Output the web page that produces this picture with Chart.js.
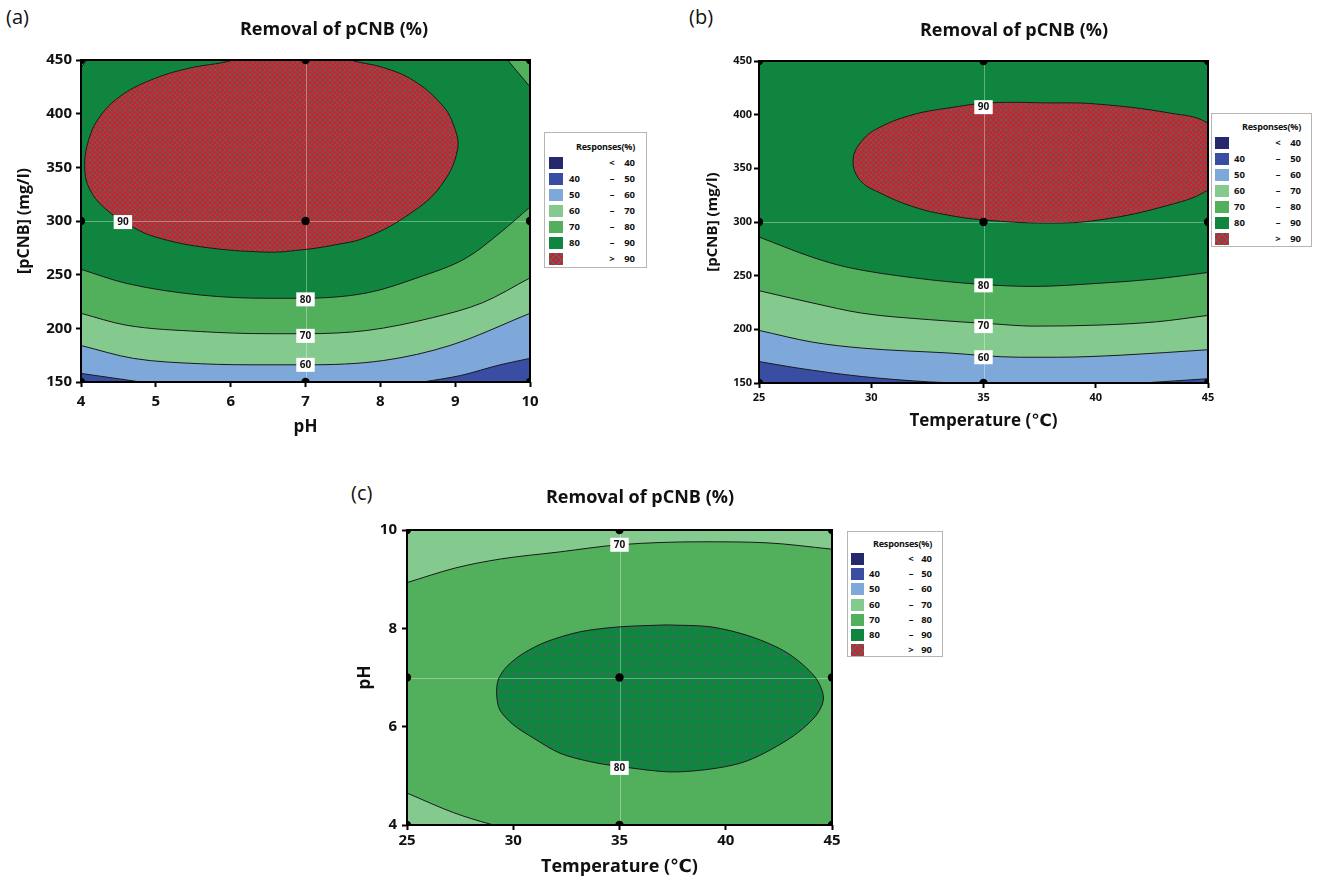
<!DOCTYPE html>
<html><head><meta charset="utf-8">
<script src="https://cdn.jsdelivr.net/npm/chart.js@4.4.1/dist/chart.umd.min.js"></script>
<style>
html,body{margin:0;padding:0;background:#fff;overflow:hidden;width:1317px;height:880px;}
body{position:relative;font-family:'Open Sans','DejaVu Sans',sans-serif;color:#111;}
canvas{position:absolute;}
.pl{position:absolute;font-size:20px;line-height:24px;color:#111;}
.lg{position:absolute;border:1.5px solid #b5b5b5;background:#fff;box-sizing:border-box;font-weight:700;}
.lg div,.lg span{position:absolute;white-space:nowrap;}
</style></head><body>
<div class="pl" style="left:6px;top:5px">(a)</div>
<div class="pl" style="left:689px;top:5px">(b)</div>
<div class="pl" style="left:351px;top:481px">(c)</div>
<canvas id="ca" width="668" height="440" style="left:0;top:0"></canvas>
<canvas id="cb" width="636" height="433" style="left:696px;top:0"></canvas>
<canvas id="cc" width="580" height="410" style="left:350px;top:470px"></canvas>
<div id="lga" class="lg"></div>
<div id="lgb" class="lg"></div>
<div id="lgc" class="lg"></div>
<script>
// ---------- tick values ----------
const phTicks = [4, 5, 6, 7, 8, 9, 10];
const pcnbTicks = [150, 200, 250, 300, 350, 400, 450];
const tempTicks = [25, 30, 35, 40, 45];
const phTicksC = [4, 6, 8, 10];

// ---------- legend ----------
const legendLo = ['', '40', '50', '60', '70', '80', ''];
const legendOp = ['<', '–', '–', '–', '–', '–', '>'];
const legendHi = ['40', '50', '60', '70', '80', '90', '90'];

// ---------- panel (a): pH vs [pCNB] ----------
const aDesignX = [4, 4, 4, 7, 7, 7, 10, 10, 10];
const aDesignY = [150, 300, 450, 150, 300, 450, 150, 300, 450];
const aC90 = [[6.8,470],[6.03,450],[5.42,442],[4.92,431],[4.52,416],[4.25,397],[4.1,375],[4.05,350],[4.12,329],[4.35,310],[4.7,294],[5.0,285],[5.6,276],[6.48,271],[6.93,273],[7.33,277],[7.82,285],[8.4,307],[8.8,332],[9.03,366],[8.97,391],[8.8,410],[8.44,431],[8.04,443],[7.6,450],[6.8,470]];
const aC80 = [[4,255],[4.6,242],[5.6,231],[6.5,228],[6.93,228],[7.82,233],[8.49,247],[9.16,266],[9.6,289],[10,313]];
const aC70 = [[4,214],[4.6,203],[5.6,197],[6.5,195],[7,195],[7.82,198],[8.7,210],[9.37,224],[10,247]];
const aC60 = [[4,184],[4.7,172],[5.6,167],[6.5,166],[7,166],[8.04,170],[8.93,184],[10,214]];
const aC50L = [[4,158],[4.4,154],[4.8,150]];
const aC50R = [[8.57,150],[9.07,156],[9.6,166],[10,172]];
const aC80TR = [[9.7,450],[10,425]];
const aC80TL = [[4,443],[4.08,450]];
const aLabelText = ['90', '80', '70', '60'];
const aLabelX = [4.56, 7, 7, 7];
const aLabelY = [299, 227, 193, 166];
const aCross = [7, 300];

// ---------- panel (b): Temperature vs [pCNB] ----------
const bDesignX = [25, 25, 25, 35, 35, 35, 45, 45, 45];
const bDesignY = [150, 300, 450, 150, 300, 450, 150, 300, 450];
const bC90 = [[46.5,360],[45,392],[43.3,401.5],[40.0,410],[37.8,411],[35.3,411],[33.37,406],[31.86,400],[30.4,388.5],[29.6,376],[29.19,358],[29.5,339],[30.4,327],[31.9,314],[33.4,306.5],[35.0,302],[37.8,299],[40.2,302],[43.3,316],[45,330],[46.5,360]];
const bC80 = [[25,286],[27.4,267],[28.9,258],[31.9,248],[34.8,242],[37.2,240],[40.2,243],[42.7,247],[45,253]];
const bC70 = [[25,236],[27.4,224.5],[29.6,215],[32.6,209],[35.5,205],[37.2,203],[40.2,204],[42.7,207],[45,213]];
const bC60 = [[25,199],[27.4,188],[29.6,182.5],[33.4,178],[36.6,174],[38.3,174],[41.2,176],[45,181]];
const bC50L = [[25,170],[26.7,164],[29.6,156],[32.6,151],[33.8,150]];
const bC50R = [[42.1,150],[45,154]];
const bLabelText = ['90', '80', '70', '60'];
const bLabelX = [35, 35, 35, 35];
const bLabelY = [407, 241, 203, 174];
const bCross = [35, 300];

// ---------- panel (c): Temperature vs pH ----------
const cDesignX = [25, 25, 25, 35, 35, 35, 45, 45, 45];
const cDesignY = [4, 7, 10, 4, 7, 10, 4, 7, 10];
const cC80 = [[37.2,8.07],[39.3,8.03],[41.2,7.83],[42.9,7.5],[44.2,7.01],[44.6,6.58],[44.2,6.2],[42.9,5.73],[40.7,5.26],[37.7,5.08],[35.0,5.19],[33.6,5.29],[32.2,5.46],[30.94,5.77],[30.0,6.04],[29.37,6.34],[29.22,6.65],[29.29,6.95],[29.69,7.22],[30.47,7.49],[31.58,7.73],[33.15,7.93],[35.0,8.03],[37.2,8.07]];
const cC70Top = [[25,8.93],[27.3,9.23],[29.4,9.41],[32.1,9.55],[35,9.70],[38.9,9.76],[41.9,9.74],[45,9.61]];
const cC70Bot = [[25,4.65],[27.2,4.25],[28.9,4.02],[29.1,4.0]];
const cLabelText = ['70', '80'];
const cLabelX = [35, 35];
const cLabelY = [9.70, 5.16];
const cCross = [35, 7];

// ---------- styles ----------
const FONT = "'Open Sans','DejaVu Sans',sans-serif";
const COL = {lt40:'#26286e', b40:'#394ea3', b50:'#7ea8da', b60:'#84c98e', b70:'#52b05c', b80:'#108540', red:'#c9222b'};

function hatchPattern() {
  const t = document.createElement('canvas'); t.width = 5; t.height = 5;
  const g = t.getContext('2d');
  g.fillStyle = COL.red; g.fillRect(0, 0, 5, 5);
  g.fillStyle = '#6b5d5d';
  for (let i = 0; i < 5; i++) { g.fillRect(i, i, 1, 1); g.fillRect(4 - i, i, 1, 1); }
  return g.createPattern(t, 'repeat');
}
function dotPattern() {
  const t = document.createElement('canvas'); t.width = 8; t.height = 9;
  const g = t.getContext('2d');
  g.fillStyle = COL.b80; g.fillRect(0, 0, 8, 9);
  g.fillStyle = '#6e5274'; g.fillRect(3, 4, 2, 2);
  return g.createPattern(t, 'repeat');
}
const toXY = arr => arr.map(p => ({x: p[0], y: p[1]}));

function axis(o) {
  return {
    type: 'linear', min: o.min, max: o.max,
    afterBuildTicks: s => { s.ticks = o.ticks.map(v => ({value: v})); },
    afterFit: s => { if (o.isX) s.height = o.fit; else s.width = o.fit; },
    grid: {drawOnChartArea: false, drawTicks: true, tickLength: 5, tickColor: '#000', tickWidth: 2, color: '#000'},
    border: {display: false},
    ticks: {font: {family: FONT, size: o.tickSize, weight: 'bold'}, color: '#111', padding: o.tickPad, autoSkip: false, maxRotation: 0, minRotation: 0},
    title: {display: true, text: o.title, color: '#111', font: {family: FONT, size: o.titleSize, weight: 'bold'},
            padding: o.isX ? {top: 0, bottom: o.titlePad} : {top: o.titlePad, bottom: 0}}
  };
}

function makeChart(id, o) {
  const ds = [{
    data: o.designX.map((x, i) => ({x: x, y: o.designY[i]})),
    showLine: false, pointRadius: 4.2, pointHoverRadius: 4.2,
    backgroundColor: '#000', borderColor: '#000', borderWidth: 0, fill: false
  }];
  for (const L of o.layers) {
    ds.push({
      data: toXY(L.pts), showLine: true, pointRadius: 0, pointHoverRadius: 0,
      borderColor: '#1a1a1a', borderWidth: 1, fill: L.fill, backgroundColor: L.color,
      tension: L.fill === 'shape' ? (L.tension || 0.4) : 0,
      cubicInterpolationMode: L.fill === 'shape' ? 'default' : 'monotone'
    });
  }
  const deco = {
    id: 'deco' + id,
    beforeDraw(chart) {
      const a = chart.chartArea, c = chart.ctx;
      c.save(); c.fillStyle = o.bg; c.fillRect(a.left, a.top, a.right - a.left, a.bottom - a.top); c.restore();
    },
    beforeDatasetsDraw(chart) {
      const a = chart.chartArea, c = chart.ctx;
      const px = chart.scales.x.getPixelForValue(o.cross[0]);
      const py = chart.scales.y.getPixelForValue(o.cross[1]);
      c.save(); c.strokeStyle = 'rgba(255,255,255,0.35)'; c.lineWidth = 1;
      c.beginPath(); c.moveTo(Math.round(px) + 0.5, a.top); c.lineTo(Math.round(px) + 0.5, a.bottom);
      c.moveTo(a.left, Math.round(py) + 0.5); c.lineTo(a.right, Math.round(py) + 0.5); c.stroke(); c.restore();
    },
    afterDatasetsDraw(chart) {
      const c = chart.ctx;
      c.save();
      c.font = 'bold 10px ' + FONT; c.textAlign = 'center'; c.textBaseline = 'middle';
      o.labelText.forEach((t, i) => {
        const px = chart.scales.x.getPixelForValue(o.labelX[i]);
        const py = chart.scales.y.getPixelForValue(o.labelY[i]);
        const w = c.measureText(t).width + 7;
        c.fillStyle = '#fff'; c.fillRect(px - w / 2, py - 7, w, 14);
        c.fillStyle = '#111'; c.fillText(t, px, py + 0.5);
      });
      c.restore();
    },
    afterDraw(chart) {
      const a = chart.chartArea, c = chart.ctx;
      c.save(); c.strokeStyle = '#000'; c.lineWidth = 2;
      c.strokeRect(a.left, a.top, a.right - a.left, a.bottom - a.top); c.restore();
    }
  };
  new Chart(document.getElementById(id), {
    type: 'scatter',
    data: {datasets: ds},
    options: {
      responsive: false, animation: false, events: [], devicePixelRatio: 1,
      layout: {padding: 0},
      plugins: {
        legend: {display: false}, tooltip: {enabled: false},
        filler: {drawTime: 'beforeDatasetsDraw', propagate: false},
        title: {display: true, text: 'Removal of pCNB (%)', color: '#111',
                font: {family: FONT, size: 18, weight: 'bold'}, padding: o.titlePad}
      },
      scales: {
        x: axis(o.x), y: axis(o.y),
        side: {type: 'linear', position: 'right', display: true,
               afterFit: s => { s.width = o.padRight; },
               grid: {display: false}, border: {display: false}, ticks: {display: false}, title: {display: false}}
      }
    },
    plugins: [deco]
  });
}

const hatch = hatchPattern();
const dots = dotPattern();

makeChart('ca', {
  designX: aDesignX, designY: aDesignY, bg: COL.b80, cross: aCross,
  labelText: aLabelText, labelX: aLabelX, labelY: aLabelY,
  padRight: 138, titlePad: {top: 19.2, bottom: 19.2},
  layers: [
    {pts: aC90, fill: 'shape', color: hatch},
    {pts: aC50L, fill: 'start', color: COL.b40},
    {pts: aC50R, fill: 'start', color: COL.b40},
    {pts: aC60, fill: 'start', color: COL.b50},
    {pts: aC70, fill: 'start', color: COL.b60},
    {pts: aC80, fill: 'start', color: COL.b70},
    {pts: aC80TR, fill: 'end', color: COL.b70},
    {pts: aC80TL, fill: 'end', color: COL.b70}
  ],
  x: {isX: true, min: 4, max: 10, ticks: phTicks, fit: 58, tickSize: 15, tickPad: 6, title: 'pH', titleSize: 17, titlePad: 2.8},
  y: {isX: false, min: 150, max: 450, ticks: pcnbTicks, fit: 81, tickSize: 15, tickPad: 4, title: '[pCNB] (mg/l)', titleSize: 16, titlePad: 14.4}
});

makeChart('cb', {
  designX: bDesignX, designY: bDesignY, bg: COL.b80, cross: bCross,
  labelText: bLabelText, labelX: bLabelX, labelY: bLabelY,
  padRight: 124, titlePad: {top: 19.7, bottom: 19.7},
  layers: [
    {pts: bC90, fill: 'shape', color: hatch},
    {pts: bC50L, fill: 'start', color: COL.b40},
    {pts: bC50R, fill: 'start', color: COL.b40},
    {pts: bC60, fill: 'start', color: COL.b50},
    {pts: bC70, fill: 'start', color: COL.b60},
    {pts: bC80, fill: 'start', color: COL.b70}
  ],
  x: {isX: true, min: 25, max: 45, ticks: tempTicks, fit: 50, tickSize: 11, tickPad: 3.4, title: 'Temperature (℃)', titleSize: 17, titlePad: 1.8},
  y: {isX: false, min: 150, max: 450, ticks: pcnbTicks, fit: 63, tickSize: 11, tickPad: 2, title: '[pCNB] (mg/l)', titleSize: 15, titlePad: 7.5}
});

makeChart('cc', {
  designX: cDesignX, designY: cDesignY, bg: COL.b70, cross: cCross,
  labelText: cLabelText, labelX: cLabelX, labelY: cLabelY,
  padRight: 98, titlePad: {top: 17.2, bottom: 21.2},
  layers: [
    {pts: cC80, fill: 'shape', color: dots, tension: 0.3},
    {pts: cC70Top, fill: 'end', color: COL.b60},
    {pts: cC70Bot, fill: 'start', color: COL.b60}
  ],
  x: {isX: true, min: 25, max: 45, ticks: tempTicks, fit: 55, tickSize: 15, tickPad: 2, title: 'Temperature (℃)', titleSize: 18, titlePad: 2.2},
  y: {isX: false, min: 4, max: 10, ticks: phTicksC, fit: 57, tickSize: 15, tickPad: 5, title: 'pH', titleSize: 17, titlePad: 5.3}
});

// ---------- legends (HTML) ----------
const swatchCols = [COL.lt40, COL.b40, COL.b50, COL.b60, COL.b70, COL.b80, null];
function buildLegend(id, g) {
  const el = document.getElementById(id);
  el.style.left = g.left + 'px'; el.style.top = g.top + 'px';
  el.style.width = g.w + 'px'; el.style.height = g.h + 'px';
  const fs = g.fs;
  const ttl = document.createElement('div');
  ttl.textContent = 'Responses(%)';
  ttl.style.cssText = `right:${g.w - g.hiR}px;top:${g.titleY - g.top - 7}px;font-size:${fs - 0.5}px;line-height:14px;letter-spacing:-0.2px;`;
  el.appendChild(ttl);
  for (let i = 0; i < legendHi.length; i++) {
    const cy = g.row0 + i * g.step - g.top;
    const sw = document.createElement('div');
    let bgc = swatchCols[i];
    if (bgc === null) bgc = 'repeating-linear-gradient(45deg,#6b5d5d 0 1px,transparent 1px 4px),repeating-linear-gradient(-45deg,#6b5d5d 0 1px,transparent 1px 4px),' + COL.red;
    sw.style.cssText = `left:${g.sx}px;top:${cy - 6}px;width:${g.sw}px;height:12px;background:${bgc};`;
    el.appendChild(sw);
    const mk = (txt, css) => { const s = document.createElement('span'); s.textContent = txt; s.style.cssText = css + `top:${cy - 7}px;font-size:${fs}px;line-height:14px;`; el.appendChild(s); };
    if (legendLo[i]) mk(legendLo[i], `left:${g.lo}px;`);
    mk(legendOp[i], `left:${g.op - 4}px;width:8px;text-align:center;`);
    mk(legendHi[i], `right:${g.w - g.hiR}px;`);
  }
}
buildLegend('lga', {left: 544, top: 132, w: 103, h: 136, titleY: 146, row0: 162, step: 16, sx: 4, sw: 14, lo: 24, op: 67, hiR: 92, fs: 9.5});
buildLegend('lgb', {left: 1211, top: 113, w: 101, h: 134, titleY: 126, row0: 142, step: 16, sx: 3, sw: 14, lo: 22, op: 66, hiR: 91, fs: 9.5});
buildLegend('lgc', {left: 847, top: 531, w: 96, h: 126, titleY: 543, row0: 558, step: 15.2, sx: 3, sw: 13, lo: 21, op: 63, hiR: 86, fs: 9.5});
</script>
</body></html>
